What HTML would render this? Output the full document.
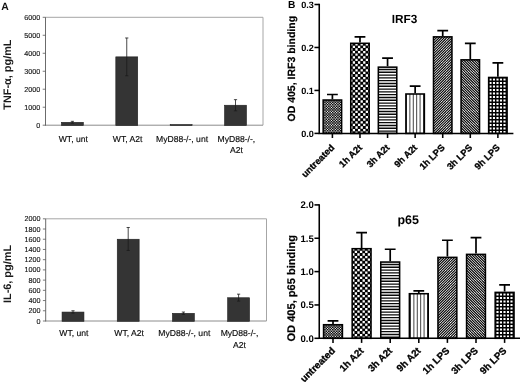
<!DOCTYPE html>
<html lang="en">
<head>
<meta charset="utf-8">
<title>Figure</title>
<style>
html,body{margin:0;padding:0;background:#fff;}
body{width:520px;height:384px;overflow:hidden;}
svg{display:block;will-change:transform;font-family:'Liberation Sans', Arial, sans-serif;}
</style>
</head>
<body>
<svg width="520" height="384" viewBox="0 0 520 384" text-rendering="geometricPrecision">
<rect width="520" height="384" fill="#fff"/>
<defs>
</defs>
<text x="1.2" y="9.6" font-size="10.4" font-weight="bold" text-anchor="start" fill="#111" >A</text>
<text x="288.0" y="8.2" font-size="10.2" font-weight="bold" text-anchor="start" fill="#000" >B</text>
<path d="M45.5 17.3H263.0V125.2" fill="none" stroke="#a6a6a6" stroke-width="1"/>
<path d="M45.2 125.2H263.0" fill="none" stroke="#8c8c8c" stroke-width="1"/>
<path d="M45.5 17.3V125.60000000000001" fill="none" stroke="#5a5a5a" stroke-width="0.9"/>
<path d="M42.7 125.20H45.5" stroke="#5a5a5a" stroke-width="0.8"/>
<text x="40.3" y="127.75" font-size="7.2" font-weight="normal" text-anchor="end" fill="#101010" stroke="#101010" stroke-width="0.12">0</text>
<path d="M42.7 107.22H45.5" stroke="#5a5a5a" stroke-width="0.8"/>
<text x="40.3" y="109.77" font-size="7.2" font-weight="normal" text-anchor="end" fill="#101010" stroke="#101010" stroke-width="0.12">1000</text>
<path d="M42.7 89.23H45.5" stroke="#5a5a5a" stroke-width="0.8"/>
<text x="40.3" y="91.78" font-size="7.2" font-weight="normal" text-anchor="end" fill="#101010" stroke="#101010" stroke-width="0.12">2000</text>
<path d="M42.7 71.25H45.5" stroke="#5a5a5a" stroke-width="0.8"/>
<text x="40.3" y="73.8" font-size="7.2" font-weight="normal" text-anchor="end" fill="#101010" stroke="#101010" stroke-width="0.12">3000</text>
<path d="M42.7 53.27H45.5" stroke="#5a5a5a" stroke-width="0.8"/>
<text x="40.3" y="55.82" font-size="7.2" font-weight="normal" text-anchor="end" fill="#101010" stroke="#101010" stroke-width="0.12">4000</text>
<path d="M42.7 35.28H45.5" stroke="#5a5a5a" stroke-width="0.8"/>
<text x="40.3" y="37.83" font-size="7.2" font-weight="normal" text-anchor="end" fill="#101010" stroke="#101010" stroke-width="0.12">5000</text>
<path d="M42.7 17.30H45.5" stroke="#5a5a5a" stroke-width="0.8"/>
<text x="40.3" y="19.85" font-size="7.2" font-weight="normal" text-anchor="end" fill="#101010" stroke="#101010" stroke-width="0.12">6000</text>
<rect x="61.44" y="122.32" width="21.9" height="3.18" fill="#343434" stroke="#1e1e1e" stroke-width="0.6"/>
<path d="M72.39 123.22V121.33M70.79 121.33h3.2M70.79 123.22h3.2" stroke="#1a1a1a" stroke-width="0.8" fill="none"/>
<text x="73.29" y="141.8" font-size="8.6" font-weight="normal" text-anchor="middle" fill="#0c0c0c" stroke="#0c0c0c" stroke-width="0.15">WT, unt</text>
<rect x="115.81" y="56.86" width="21.9" height="68.64" fill="#343434" stroke="#1e1e1e" stroke-width="0.6"/>
<path d="M126.76 75.75V37.98M125.16 37.98h3.2M125.16 75.75h3.2" stroke="#1a1a1a" stroke-width="0.8" fill="none"/>
<text x="127.66" y="141.8" font-size="8.6" font-weight="normal" text-anchor="middle" fill="#0c0c0c" stroke="#0c0c0c" stroke-width="0.15">WT, A2t</text>
<rect x="170.19" y="124.57" width="21.9" height="0.93" fill="#343434" stroke="#1e1e1e" stroke-width="0.6"/>
<text x="182.04" y="141.8" font-size="8.6" font-weight="normal" text-anchor="middle" fill="#0c0c0c" stroke="#0c0c0c" stroke-width="0.15">MyD88-/-, unt</text>
<rect x="224.56" y="105.24" width="21.9" height="20.26" fill="#343434" stroke="#1e1e1e" stroke-width="0.6"/>
<path d="M235.51 110.81V99.66M233.91 99.66h3.2M233.91 110.81h3.2" stroke="#1a1a1a" stroke-width="0.8" fill="none"/>
<text x="236.41" y="141.8" font-size="8.6" font-weight="normal" text-anchor="middle" fill="#0c0c0c" stroke="#0c0c0c" stroke-width="0.15">MyD88-/-,</text>
<text x="236.41" y="153.3" font-size="8.6" font-weight="normal" text-anchor="middle" fill="#0c0c0c" stroke="#0c0c0c" stroke-width="0.15">A2t</text>
<text transform="translate(11.1 74.6) rotate(-90)" font-size="10.9" font-weight="bold" text-anchor="middle" fill="#1a1a1a">TNF-α, pg/mL</text>
<path d="M45.7 218.8H266.5V321.0" fill="none" stroke="#a6a6a6" stroke-width="1"/>
<path d="M45.400000000000006 321.0H266.5" fill="none" stroke="#8c8c8c" stroke-width="1"/>
<path d="M45.7 218.8V321.4" fill="none" stroke="#5a5a5a" stroke-width="0.9"/>
<path d="M42.900000000000006 321.00H45.7" stroke="#5a5a5a" stroke-width="0.8"/>
<text x="40.5" y="323.55" font-size="7.2" font-weight="normal" text-anchor="end" fill="#101010" stroke="#101010" stroke-width="0.12">0</text>
<path d="M42.900000000000006 310.78H45.7" stroke="#5a5a5a" stroke-width="0.8"/>
<text x="40.5" y="313.33" font-size="7.2" font-weight="normal" text-anchor="end" fill="#101010" stroke="#101010" stroke-width="0.12">200</text>
<path d="M42.900000000000006 300.56H45.7" stroke="#5a5a5a" stroke-width="0.8"/>
<text x="40.5" y="303.11" font-size="7.2" font-weight="normal" text-anchor="end" fill="#101010" stroke="#101010" stroke-width="0.12">400</text>
<path d="M42.900000000000006 290.34H45.7" stroke="#5a5a5a" stroke-width="0.8"/>
<text x="40.5" y="292.89" font-size="7.2" font-weight="normal" text-anchor="end" fill="#101010" stroke="#101010" stroke-width="0.12">600</text>
<path d="M42.900000000000006 280.12H45.7" stroke="#5a5a5a" stroke-width="0.8"/>
<text x="40.5" y="282.67" font-size="7.2" font-weight="normal" text-anchor="end" fill="#101010" stroke="#101010" stroke-width="0.12">800</text>
<path d="M42.900000000000006 269.90H45.7" stroke="#5a5a5a" stroke-width="0.8"/>
<text x="40.5" y="272.45" font-size="7.2" font-weight="normal" text-anchor="end" fill="#101010" stroke="#101010" stroke-width="0.12">1000</text>
<path d="M42.900000000000006 259.68H45.7" stroke="#5a5a5a" stroke-width="0.8"/>
<text x="40.5" y="262.23" font-size="7.2" font-weight="normal" text-anchor="end" fill="#101010" stroke="#101010" stroke-width="0.12">1200</text>
<path d="M42.900000000000006 249.46H45.7" stroke="#5a5a5a" stroke-width="0.8"/>
<text x="40.5" y="252.01" font-size="7.2" font-weight="normal" text-anchor="end" fill="#101010" stroke="#101010" stroke-width="0.12">1400</text>
<path d="M42.900000000000006 239.24H45.7" stroke="#5a5a5a" stroke-width="0.8"/>
<text x="40.5" y="241.79" font-size="7.2" font-weight="normal" text-anchor="end" fill="#101010" stroke="#101010" stroke-width="0.12">1600</text>
<path d="M42.900000000000006 229.02H45.7" stroke="#5a5a5a" stroke-width="0.8"/>
<text x="40.5" y="231.57" font-size="7.2" font-weight="normal" text-anchor="end" fill="#101010" stroke="#101010" stroke-width="0.12">1800</text>
<path d="M42.900000000000006 218.80H45.7" stroke="#5a5a5a" stroke-width="0.8"/>
<text x="40.5" y="221.35" font-size="7.2" font-weight="normal" text-anchor="end" fill="#101010" stroke="#101010" stroke-width="0.12">2000</text>
<rect x="62.05" y="312.06" width="21.9" height="9.24" fill="#343434" stroke="#1e1e1e" stroke-width="0.6"/>
<path d="M73.00 313.08V310.78M71.40 310.78h3.2M71.40 313.08h3.2" stroke="#1a1a1a" stroke-width="0.8" fill="none"/>
<text x="73.9" y="336.3" font-size="8.6" font-weight="normal" text-anchor="middle" fill="#0c0c0c" stroke="#0c0c0c" stroke-width="0.15">WT, unt</text>
<rect x="117.25" y="239.24" width="21.9" height="82.06" fill="#343434" stroke="#1e1e1e" stroke-width="0.6"/>
<path d="M128.20 250.48V227.49M126.60 227.49h3.2M126.60 250.48h3.2" stroke="#1a1a1a" stroke-width="0.8" fill="none"/>
<text x="129.1" y="336.3" font-size="8.6" font-weight="normal" text-anchor="middle" fill="#0c0c0c" stroke="#0c0c0c" stroke-width="0.15">WT, A2t</text>
<rect x="172.45" y="313.33" width="21.9" height="7.97" fill="#343434" stroke="#1e1e1e" stroke-width="0.6"/>
<path d="M183.40 314.36V312.06M181.80 312.06h3.2M181.80 314.36h3.2" stroke="#1a1a1a" stroke-width="0.8" fill="none"/>
<text x="184.3" y="336.3" font-size="8.6" font-weight="normal" text-anchor="middle" fill="#0c0c0c" stroke="#0c0c0c" stroke-width="0.15">MyD88-/-, unt</text>
<rect x="227.65" y="297.75" width="21.9" height="23.55" fill="#343434" stroke="#1e1e1e" stroke-width="0.6"/>
<path d="M238.60 301.07V294.17M237.00 294.17h3.2M237.00 301.07h3.2" stroke="#1a1a1a" stroke-width="0.8" fill="none"/>
<text x="239.5" y="336.3" font-size="8.6" font-weight="normal" text-anchor="middle" fill="#0c0c0c" stroke="#0c0c0c" stroke-width="0.15">MyD88-/-,</text>
<text x="239.5" y="347.8" font-size="8.6" font-weight="normal" text-anchor="middle" fill="#0c0c0c" stroke="#0c0c0c" stroke-width="0.15">A2t</text>
<text transform="translate(11.1 274.0) rotate(-90)" font-size="10.9" font-weight="bold" text-anchor="middle" fill="#1a1a1a">IL-6, pg/mL</text>
<path d="M332.40 99.24V94.52M327.00 94.52h10.8" stroke="#000" stroke-width="1.7" fill="none"/>
<pattern id="dith_a" width="13" height="13" x="323" y="99" patternUnits="userSpaceOnUse"><rect width="13" height="13" fill="#0d0d0d"/><path d="M0.10 0.10h1.1v1.1h-1.1zM0.10 2.70h1.1v1.1h-1.1zM0.10 5.30h1.1v1.1h-1.1zM0.10 7.90h1.1v1.1h-1.1zM0.10 10.50h1.1v1.1h-1.1zM1.40 1.40h1.1v1.1h-1.1zM1.40 4.00h1.1v1.1h-1.1zM1.40 6.60h1.1v1.1h-1.1zM1.40 9.20h1.1v1.1h-1.1zM1.40 11.80h1.1v1.1h-1.1zM2.70 0.10h1.1v1.1h-1.1zM2.70 2.70h1.1v1.1h-1.1zM2.70 5.30h1.1v1.1h-1.1zM2.70 7.90h1.1v1.1h-1.1zM2.70 10.50h1.1v1.1h-1.1zM4.00 1.40h1.1v1.1h-1.1zM4.00 4.00h1.1v1.1h-1.1zM4.00 6.60h1.1v1.1h-1.1zM4.00 9.20h1.1v1.1h-1.1zM4.00 11.80h1.1v1.1h-1.1zM5.30 0.10h1.1v1.1h-1.1zM5.30 2.70h1.1v1.1h-1.1zM5.30 5.30h1.1v1.1h-1.1zM5.30 7.90h1.1v1.1h-1.1zM5.30 10.50h1.1v1.1h-1.1zM6.60 1.40h1.1v1.1h-1.1zM6.60 4.00h1.1v1.1h-1.1zM6.60 6.60h1.1v1.1h-1.1zM6.60 9.20h1.1v1.1h-1.1zM6.60 11.80h1.1v1.1h-1.1zM7.90 0.10h1.1v1.1h-1.1zM7.90 2.70h1.1v1.1h-1.1zM7.90 5.30h1.1v1.1h-1.1zM7.90 7.90h1.1v1.1h-1.1zM7.90 10.50h1.1v1.1h-1.1zM9.20 1.40h1.1v1.1h-1.1zM9.20 4.00h1.1v1.1h-1.1zM9.20 6.60h1.1v1.1h-1.1zM9.20 9.20h1.1v1.1h-1.1zM9.20 11.80h1.1v1.1h-1.1zM10.50 0.10h1.1v1.1h-1.1zM10.50 2.70h1.1v1.1h-1.1zM10.50 5.30h1.1v1.1h-1.1zM10.50 7.90h1.1v1.1h-1.1zM10.50 10.50h1.1v1.1h-1.1zM11.80 1.40h1.1v1.1h-1.1zM11.80 4.00h1.1v1.1h-1.1zM11.80 6.60h1.1v1.1h-1.1zM11.80 9.20h1.1v1.1h-1.1zM11.80 11.80h1.1v1.1h-1.1z" fill="#f2f2f2"/></pattern>
<rect x="323.17" y="100.02" width="18.45" height="33.38" fill="url(#dith_a)" stroke="#000" stroke-width="1.55"/>
<path d="M332.40 133.4v4.6" stroke="#000" stroke-width="1.55"/>
<text transform="translate(335.00 148.20) rotate(-45)" font-size="9.25" font-weight="bold" text-anchor="end" fill="#000" stroke="#000" stroke-width="0.3">untreated</text>
<path d="M359.98 42.53V36.94M354.58 36.94h10.8" stroke="#000" stroke-width="1.7" fill="none"/>
<pattern id="chk_a" width="26" height="26" x="350" y="43" patternUnits="userSpaceOnUse"><rect width="26" height="26" fill="#000"/><path d="M0.15 0.15h2.3v2.3h-2.3zM0.15 5.35h2.3v2.3h-2.3zM0.15 10.55h2.3v2.3h-2.3zM0.15 15.75h2.3v2.3h-2.3zM0.15 20.95h2.3v2.3h-2.3zM2.75 2.75h2.3v2.3h-2.3zM2.75 7.95h2.3v2.3h-2.3zM2.75 13.15h2.3v2.3h-2.3zM2.75 18.35h2.3v2.3h-2.3zM2.75 23.55h2.3v2.3h-2.3zM5.35 0.15h2.3v2.3h-2.3zM5.35 5.35h2.3v2.3h-2.3zM5.35 10.55h2.3v2.3h-2.3zM5.35 15.75h2.3v2.3h-2.3zM5.35 20.95h2.3v2.3h-2.3zM7.95 2.75h2.3v2.3h-2.3zM7.95 7.95h2.3v2.3h-2.3zM7.95 13.15h2.3v2.3h-2.3zM7.95 18.35h2.3v2.3h-2.3zM7.95 23.55h2.3v2.3h-2.3zM10.55 0.15h2.3v2.3h-2.3zM10.55 5.35h2.3v2.3h-2.3zM10.55 10.55h2.3v2.3h-2.3zM10.55 15.75h2.3v2.3h-2.3zM10.55 20.95h2.3v2.3h-2.3zM13.15 2.75h2.3v2.3h-2.3zM13.15 7.95h2.3v2.3h-2.3zM13.15 13.15h2.3v2.3h-2.3zM13.15 18.35h2.3v2.3h-2.3zM13.15 23.55h2.3v2.3h-2.3zM15.75 0.15h2.3v2.3h-2.3zM15.75 5.35h2.3v2.3h-2.3zM15.75 10.55h2.3v2.3h-2.3zM15.75 15.75h2.3v2.3h-2.3zM15.75 20.95h2.3v2.3h-2.3zM18.35 2.75h2.3v2.3h-2.3zM18.35 7.95h2.3v2.3h-2.3zM18.35 13.15h2.3v2.3h-2.3zM18.35 18.35h2.3v2.3h-2.3zM18.35 23.55h2.3v2.3h-2.3zM20.95 0.15h2.3v2.3h-2.3zM20.95 5.35h2.3v2.3h-2.3zM20.95 10.55h2.3v2.3h-2.3zM20.95 15.75h2.3v2.3h-2.3zM20.95 20.95h2.3v2.3h-2.3zM23.55 2.75h2.3v2.3h-2.3zM23.55 7.95h2.3v2.3h-2.3zM23.55 13.15h2.3v2.3h-2.3zM23.55 18.35h2.3v2.3h-2.3zM23.55 23.55h2.3v2.3h-2.3z" fill="#fff"/></pattern>
<rect x="350.75" y="43.30" width="18.45" height="90.10" fill="url(#chk_a)" stroke="#000" stroke-width="1.55"/>
<path d="M359.98 133.4v4.6" stroke="#000" stroke-width="1.55"/>
<text transform="translate(362.58 148.20) rotate(-45)" font-size="9.25" font-weight="bold" text-anchor="end" fill="#000" stroke="#000" stroke-width="0.3">1h A2t</text>
<path d="M387.56 66.37V58.21M382.16 58.21h10.8" stroke="#000" stroke-width="1.7" fill="none"/>
<pattern id="hor_a" width="4" height="14" x="378" y="66" patternUnits="userSpaceOnUse"><rect width="4" height="14" fill="#fff"/><path d="M0 0.00h4v1.35h-4zM0 2.80h4v1.35h-4zM0 5.60h4v1.35h-4zM0 8.40h4v1.35h-4zM0 11.20h4v1.35h-4z" fill="#0a0a0a"/></pattern>
<rect x="378.33" y="67.15" width="18.45" height="66.25" fill="url(#hor_a)" stroke="#000" stroke-width="1.55"/>
<path d="M387.56 133.4v4.6" stroke="#000" stroke-width="1.55"/>
<text transform="translate(390.16 148.20) rotate(-45)" font-size="9.25" font-weight="bold" text-anchor="end" fill="#000" stroke="#000" stroke-width="0.3">3h A2t</text>
<path d="M415.14 93.23V86.14M409.74 86.14h10.8" stroke="#000" stroke-width="1.7" fill="none"/>
<pattern id="ver_a" width="17" height="4" x="406" y="93" patternUnits="userSpaceOnUse"><rect width="17" height="4" fill="#fff"/><path d="M0.00 0v4h0.95v-4zM3.40 0v4h0.95v-4zM6.80 0v4h0.95v-4zM10.20 0v4h0.95v-4zM13.60 0v4h0.95v-4z" fill="#3a3a3a"/></pattern>
<rect x="405.91" y="94.00" width="18.45" height="39.40" fill="url(#ver_a)" stroke="#000" stroke-width="1.55"/>
<path d="M415.14 133.4v4.6" stroke="#000" stroke-width="1.55"/>
<text transform="translate(417.74 148.20) rotate(-45)" font-size="9.25" font-weight="bold" text-anchor="end" fill="#000" stroke="#000" stroke-width="0.3">9h A2t</text>
<path d="M442.72 36.08V30.71M437.32 30.71h10.8" stroke="#000" stroke-width="1.7" fill="none"/>
<pattern id="dg1_a" width="13" height="13" x="433" y="36" patternUnits="userSpaceOnUse"><rect width="13" height="13" fill="#fff"/><path d="M0.00 0L0 0.00M2.60 0L0 2.60M5.20 0L0 5.20M7.80 0L0 7.80M10.40 0L0 10.40M13.00 0L0 13.00M15.60 0L0 15.60M18.20 0L0 18.20M20.80 0L0 20.80M23.40 0L0 23.40M26.00 0L0 26.00" stroke="#000" stroke-width="1.1" fill="none"/></pattern>
<rect x="433.49" y="36.86" width="18.45" height="96.54" fill="url(#dg1_a)" stroke="#000" stroke-width="1.55"/>
<path d="M442.72 133.4v4.6" stroke="#000" stroke-width="1.55"/>
<text transform="translate(445.32 148.20) rotate(-45)" font-size="9.25" font-weight="bold" text-anchor="end" fill="#000" stroke="#000" stroke-width="0.3">1h LPS</text>
<path d="M470.30 59.07V43.38M464.90 43.38h10.8" stroke="#000" stroke-width="1.7" fill="none"/>
<pattern id="dg2_a" width="13" height="13" x="460" y="59" patternUnits="userSpaceOnUse"><rect width="13" height="13" fill="#fff"/><path d="M-13.00 0L0.00 13M-10.40 0L2.60 13M-7.80 0L5.20 13M-5.20 0L7.80 13M-2.60 0L10.40 13M0.00 0L13.00 13M2.60 0L15.60 13M5.20 0L18.20 13M7.80 0L20.80 13M10.40 0L23.40 13M13.00 0L26.00 13" stroke="#000" stroke-width="1.1" fill="none"/></pattern>
<rect x="461.07" y="59.84" width="18.45" height="73.56" fill="url(#dg2_a)" stroke="#000" stroke-width="1.55"/>
<path d="M470.30 133.4v4.6" stroke="#000" stroke-width="1.55"/>
<text transform="translate(472.90 148.20) rotate(-45)" font-size="9.25" font-weight="bold" text-anchor="end" fill="#000" stroke="#000" stroke-width="0.3">3h LPS</text>
<path d="M497.88 76.68V62.93M492.48 62.93h10.8" stroke="#000" stroke-width="1.7" fill="none"/>
<pattern id="grd_a" width="7" height="7" x="488" y="77" patternUnits="userSpaceOnUse"><rect width="7" height="7" fill="#000"/><path d="M1.45 1.45h2.1v2.1h-2.1zM1.45 4.95h2.1v2.1h-2.1zM4.95 1.45h2.1v2.1h-2.1zM4.95 4.95h2.1v2.1h-2.1z" fill="#fff"/></pattern>
<rect x="488.65" y="77.46" width="18.45" height="55.94" fill="url(#grd_a)" stroke="#000" stroke-width="1.55"/>
<path d="M497.88 133.4v4.6" stroke="#000" stroke-width="1.55"/>
<text transform="translate(500.48 148.20) rotate(-45)" font-size="9.25" font-weight="bold" text-anchor="end" fill="#000" stroke="#000" stroke-width="0.3">9h LPS</text>
<path d="M319.25 3.8V133.4H513.4" fill="none" stroke="#000" stroke-width="1.55" stroke-linejoin="miter"/>
<path d="M314.45 133.40H319.25" stroke="#000" stroke-width="1.55"/>
<text x="313.85" y="136.7" font-size="9.1" font-weight="bold" text-anchor="end" fill="#000" >0.0</text>
<path d="M314.45 90.43H319.25" stroke="#000" stroke-width="1.55"/>
<text x="313.85" y="93.73" font-size="9.1" font-weight="bold" text-anchor="end" fill="#000" >0.1</text>
<path d="M314.45 47.47H319.25" stroke="#000" stroke-width="1.55"/>
<text x="313.85" y="50.77" font-size="9.1" font-weight="bold" text-anchor="end" fill="#000" >0.2</text>
<path d="M314.45 4.50H319.25" stroke="#000" stroke-width="1.55"/>
<text x="313.85" y="7.8" font-size="9.1" font-weight="bold" text-anchor="end" fill="#000" >0.3</text>
<text x="404.6" y="22.6" font-size="11.8" font-weight="bold" text-anchor="middle" fill="#000" >IRF3</text>
<text transform="translate(294.8 68.7) rotate(-90)" font-size="10.50" font-weight="bold" text-anchor="middle" fill="#000" stroke="#000" stroke-width="0.2">OD 405, IRF3 binding</text>
<path d="M333.00 323.96V320.82M327.60 320.82h10.8" stroke="#000" stroke-width="1.7" fill="none"/>
<pattern id="dith_b" width="13" height="13" x="323" y="324" patternUnits="userSpaceOnUse"><rect width="13" height="13" fill="#0d0d0d"/><path d="M0.10 0.10h1.1v1.1h-1.1zM0.10 2.70h1.1v1.1h-1.1zM0.10 5.30h1.1v1.1h-1.1zM0.10 7.90h1.1v1.1h-1.1zM0.10 10.50h1.1v1.1h-1.1zM1.40 1.40h1.1v1.1h-1.1zM1.40 4.00h1.1v1.1h-1.1zM1.40 6.60h1.1v1.1h-1.1zM1.40 9.20h1.1v1.1h-1.1zM1.40 11.80h1.1v1.1h-1.1zM2.70 0.10h1.1v1.1h-1.1zM2.70 2.70h1.1v1.1h-1.1zM2.70 5.30h1.1v1.1h-1.1zM2.70 7.90h1.1v1.1h-1.1zM2.70 10.50h1.1v1.1h-1.1zM4.00 1.40h1.1v1.1h-1.1zM4.00 4.00h1.1v1.1h-1.1zM4.00 6.60h1.1v1.1h-1.1zM4.00 9.20h1.1v1.1h-1.1zM4.00 11.80h1.1v1.1h-1.1zM5.30 0.10h1.1v1.1h-1.1zM5.30 2.70h1.1v1.1h-1.1zM5.30 5.30h1.1v1.1h-1.1zM5.30 7.90h1.1v1.1h-1.1zM5.30 10.50h1.1v1.1h-1.1zM6.60 1.40h1.1v1.1h-1.1zM6.60 4.00h1.1v1.1h-1.1zM6.60 6.60h1.1v1.1h-1.1zM6.60 9.20h1.1v1.1h-1.1zM6.60 11.80h1.1v1.1h-1.1zM7.90 0.10h1.1v1.1h-1.1zM7.90 2.70h1.1v1.1h-1.1zM7.90 5.30h1.1v1.1h-1.1zM7.90 7.90h1.1v1.1h-1.1zM7.90 10.50h1.1v1.1h-1.1zM9.20 1.40h1.1v1.1h-1.1zM9.20 4.00h1.1v1.1h-1.1zM9.20 6.60h1.1v1.1h-1.1zM9.20 9.20h1.1v1.1h-1.1zM9.20 11.80h1.1v1.1h-1.1zM10.50 0.10h1.1v1.1h-1.1zM10.50 2.70h1.1v1.1h-1.1zM10.50 5.30h1.1v1.1h-1.1zM10.50 7.90h1.1v1.1h-1.1zM10.50 10.50h1.1v1.1h-1.1zM11.80 1.40h1.1v1.1h-1.1zM11.80 4.00h1.1v1.1h-1.1zM11.80 6.60h1.1v1.1h-1.1zM11.80 9.20h1.1v1.1h-1.1zM11.80 11.80h1.1v1.1h-1.1z" fill="#f2f2f2"/></pattern>
<rect x="323.57" y="324.73" width="18.85" height="13.57" fill="url(#dith_b)" stroke="#000" stroke-width="1.55"/>
<path d="M333.00 338.3v4.6" stroke="#000" stroke-width="1.55"/>
<text transform="translate(335.60 351.40) rotate(-45)" font-size="9.76" font-weight="bold" text-anchor="end" fill="#000" stroke="#000" stroke-width="0.3">untreated</text>
<path d="M361.60 247.92V232.58M356.20 232.58h10.8" stroke="#000" stroke-width="1.7" fill="none"/>
<pattern id="chk_b" width="26" height="26" x="352" y="248" patternUnits="userSpaceOnUse"><rect width="26" height="26" fill="#000"/><path d="M0.15 0.15h2.3v2.3h-2.3zM0.15 5.35h2.3v2.3h-2.3zM0.15 10.55h2.3v2.3h-2.3zM0.15 15.75h2.3v2.3h-2.3zM0.15 20.95h2.3v2.3h-2.3zM2.75 2.75h2.3v2.3h-2.3zM2.75 7.95h2.3v2.3h-2.3zM2.75 13.15h2.3v2.3h-2.3zM2.75 18.35h2.3v2.3h-2.3zM2.75 23.55h2.3v2.3h-2.3zM5.35 0.15h2.3v2.3h-2.3zM5.35 5.35h2.3v2.3h-2.3zM5.35 10.55h2.3v2.3h-2.3zM5.35 15.75h2.3v2.3h-2.3zM5.35 20.95h2.3v2.3h-2.3zM7.95 2.75h2.3v2.3h-2.3zM7.95 7.95h2.3v2.3h-2.3zM7.95 13.15h2.3v2.3h-2.3zM7.95 18.35h2.3v2.3h-2.3zM7.95 23.55h2.3v2.3h-2.3zM10.55 0.15h2.3v2.3h-2.3zM10.55 5.35h2.3v2.3h-2.3zM10.55 10.55h2.3v2.3h-2.3zM10.55 15.75h2.3v2.3h-2.3zM10.55 20.95h2.3v2.3h-2.3zM13.15 2.75h2.3v2.3h-2.3zM13.15 7.95h2.3v2.3h-2.3zM13.15 13.15h2.3v2.3h-2.3zM13.15 18.35h2.3v2.3h-2.3zM13.15 23.55h2.3v2.3h-2.3zM15.75 0.15h2.3v2.3h-2.3zM15.75 5.35h2.3v2.3h-2.3zM15.75 10.55h2.3v2.3h-2.3zM15.75 15.75h2.3v2.3h-2.3zM15.75 20.95h2.3v2.3h-2.3zM18.35 2.75h2.3v2.3h-2.3zM18.35 7.95h2.3v2.3h-2.3zM18.35 13.15h2.3v2.3h-2.3zM18.35 18.35h2.3v2.3h-2.3zM18.35 23.55h2.3v2.3h-2.3zM20.95 0.15h2.3v2.3h-2.3zM20.95 5.35h2.3v2.3h-2.3zM20.95 10.55h2.3v2.3h-2.3zM20.95 15.75h2.3v2.3h-2.3zM20.95 20.95h2.3v2.3h-2.3zM23.55 2.75h2.3v2.3h-2.3zM23.55 7.95h2.3v2.3h-2.3zM23.55 13.15h2.3v2.3h-2.3zM23.55 18.35h2.3v2.3h-2.3zM23.55 23.55h2.3v2.3h-2.3z" fill="#fff"/></pattern>
<rect x="352.18" y="248.70" width="18.85" height="89.60" fill="url(#chk_b)" stroke="#000" stroke-width="1.55"/>
<path d="M361.60 338.3v4.6" stroke="#000" stroke-width="1.55"/>
<text transform="translate(364.20 351.40) rotate(-45)" font-size="9.76" font-weight="bold" text-anchor="end" fill="#000" stroke="#000" stroke-width="0.3">1h A2t</text>
<path d="M390.20 261.26V249.26M384.80 249.26h10.8" stroke="#000" stroke-width="1.7" fill="none"/>
<pattern id="hor_b" width="4" height="14" x="380" y="261" patternUnits="userSpaceOnUse"><rect width="4" height="14" fill="#fff"/><path d="M0 0.00h4v1.35h-4zM0 2.80h4v1.35h-4zM0 5.60h4v1.35h-4zM0 8.40h4v1.35h-4zM0 11.20h4v1.35h-4z" fill="#0a0a0a"/></pattern>
<rect x="380.77" y="262.04" width="18.85" height="76.26" fill="url(#hor_b)" stroke="#000" stroke-width="1.55"/>
<path d="M390.20 338.3v4.6" stroke="#000" stroke-width="1.55"/>
<text transform="translate(392.80 351.40) rotate(-45)" font-size="9.76" font-weight="bold" text-anchor="end" fill="#000" stroke="#000" stroke-width="0.3">3h A2t</text>
<path d="M418.80 292.94V290.94M413.40 290.94h10.8" stroke="#000" stroke-width="1.7" fill="none"/>
<pattern id="ver_b" width="17" height="4" x="410" y="293" patternUnits="userSpaceOnUse"><rect width="17" height="4" fill="#fff"/><path d="M0.00 0v4h0.95v-4zM3.40 0v4h0.95v-4zM6.80 0v4h0.95v-4zM10.20 0v4h0.95v-4zM13.60 0v4h0.95v-4z" fill="#3a3a3a"/></pattern>
<rect x="409.38" y="293.72" width="18.85" height="44.58" fill="url(#ver_b)" stroke="#000" stroke-width="1.55"/>
<path d="M418.80 338.3v4.6" stroke="#000" stroke-width="1.55"/>
<text transform="translate(421.40 351.40) rotate(-45)" font-size="9.76" font-weight="bold" text-anchor="end" fill="#000" stroke="#000" stroke-width="0.3">9h A2t</text>
<path d="M447.40 256.59V240.25M442.00 240.25h10.8" stroke="#000" stroke-width="1.7" fill="none"/>
<pattern id="dg1_b" width="13" height="13" x="437" y="257" patternUnits="userSpaceOnUse"><rect width="13" height="13" fill="#fff"/><path d="M0.00 0L0 0.00M2.60 0L0 2.60M5.20 0L0 5.20M7.80 0L0 7.80M10.40 0L0 10.40M13.00 0L0 13.00M15.60 0L0 15.60M18.20 0L0 18.20M20.80 0L0 20.80M23.40 0L0 23.40M26.00 0L0 26.00" stroke="#000" stroke-width="1.1" fill="none"/></pattern>
<rect x="437.97" y="257.37" width="18.85" height="80.93" fill="url(#dg1_b)" stroke="#000" stroke-width="1.55"/>
<path d="M447.40 338.3v4.6" stroke="#000" stroke-width="1.55"/>
<text transform="translate(450.00 351.40) rotate(-45)" font-size="9.76" font-weight="bold" text-anchor="end" fill="#000" stroke="#000" stroke-width="0.3">1h LPS</text>
<path d="M476.00 253.59V237.58M470.60 237.58h10.8" stroke="#000" stroke-width="1.7" fill="none"/>
<pattern id="dg2_b" width="13" height="13" x="466" y="254" patternUnits="userSpaceOnUse"><rect width="13" height="13" fill="#fff"/><path d="M-13.00 0L0.00 13M-10.40 0L2.60 13M-7.80 0L5.20 13M-5.20 0L7.80 13M-2.60 0L10.40 13M0.00 0L13.00 13M2.60 0L15.60 13M5.20 0L18.20 13M7.80 0L20.80 13M10.40 0L23.40 13M13.00 0L26.00 13" stroke="#000" stroke-width="1.1" fill="none"/></pattern>
<rect x="466.57" y="254.37" width="18.85" height="83.93" fill="url(#dg2_b)" stroke="#000" stroke-width="1.55"/>
<path d="M476.00 338.3v4.6" stroke="#000" stroke-width="1.55"/>
<text transform="translate(478.60 351.40) rotate(-45)" font-size="9.76" font-weight="bold" text-anchor="end" fill="#000" stroke="#000" stroke-width="0.3">3h LPS</text>
<path d="M504.60 291.61V284.94M499.20 284.94h10.8" stroke="#000" stroke-width="1.7" fill="none"/>
<pattern id="grd_b" width="7" height="7" x="495" y="292" patternUnits="userSpaceOnUse"><rect width="7" height="7" fill="#000"/><path d="M1.45 1.45h2.1v2.1h-2.1zM1.45 4.95h2.1v2.1h-2.1zM4.95 1.45h2.1v2.1h-2.1zM4.95 4.95h2.1v2.1h-2.1z" fill="#fff"/></pattern>
<rect x="495.18" y="292.38" width="18.85" height="45.91" fill="url(#grd_b)" stroke="#000" stroke-width="1.55"/>
<path d="M504.60 338.3v4.6" stroke="#000" stroke-width="1.55"/>
<text transform="translate(507.20 351.40) rotate(-45)" font-size="9.76" font-weight="bold" text-anchor="end" fill="#000" stroke="#000" stroke-width="0.3">9h LPS</text>
<path d="M319.25 204.20000000000002V338.3H520" fill="none" stroke="#000" stroke-width="1.55" stroke-linejoin="miter"/>
<path d="M314.45 338.30H319.25" stroke="#000" stroke-width="1.55"/>
<text x="313.85" y="341.6" font-size="9.6" font-weight="bold" text-anchor="end" fill="#000" >0.0</text>
<path d="M314.45 304.95H319.25" stroke="#000" stroke-width="1.55"/>
<text x="313.85" y="308.25" font-size="9.6" font-weight="bold" text-anchor="end" fill="#000" >0.5</text>
<path d="M314.45 271.60H319.25" stroke="#000" stroke-width="1.55"/>
<text x="313.85" y="274.9" font-size="9.6" font-weight="bold" text-anchor="end" fill="#000" >1.0</text>
<path d="M314.45 238.25H319.25" stroke="#000" stroke-width="1.55"/>
<text x="313.85" y="241.55" font-size="9.6" font-weight="bold" text-anchor="end" fill="#000" >1.5</text>
<path d="M314.45 204.90H319.25" stroke="#000" stroke-width="1.55"/>
<text x="313.85" y="208.2" font-size="9.6" font-weight="bold" text-anchor="end" fill="#000" >2.0</text>
<text x="408.2" y="223.6" font-size="12.45" font-weight="bold" text-anchor="middle" fill="#000" >p65</text>
<text transform="translate(294.8 288.3) rotate(-90)" font-size="11.08" font-weight="bold" text-anchor="middle" fill="#000" stroke="#000" stroke-width="0.2">OD 405, p65 binding</text>
</svg>
</body>
</html>
